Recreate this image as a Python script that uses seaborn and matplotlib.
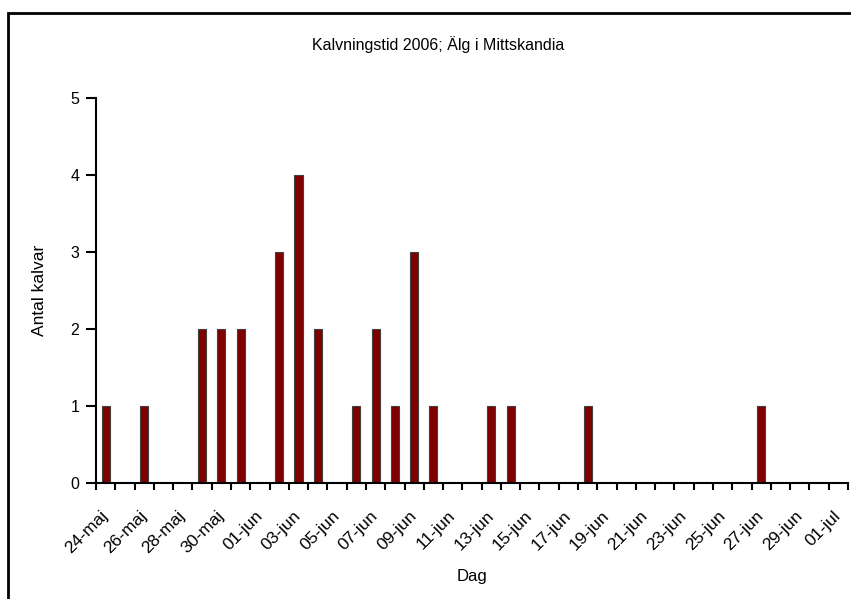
import matplotlib
matplotlib.use("Agg")
import matplotlib.pyplot as plt
import seaborn as sns
import pandas as pd
import numpy as np
from matplotlib.patches import Rectangle

sns.set_theme(style="white")
plt.rcParams['font.family'] = ['Liberation Sans', 'DejaVu Sans']
plt.rcParams['text.color'] = 'black'
plt.rcParams['axes.labelcolor'] = 'black'
plt.rcParams['xtick.color'] = 'black'
plt.rcParams['ytick.color'] = 'black'

days = ["24-maj", "25-maj", "26-maj", "27-maj", "28-maj", "29-maj", "30-maj", "31-maj",
        "01-jun", "02-jun", "03-jun", "04-jun", "05-jun", "06-jun", "07-jun", "08-jun",
        "09-jun", "10-jun", "11-jun", "12-jun", "13-jun", "14-jun", "15-jun", "16-jun",
        "17-jun", "18-jun", "19-jun", "20-jun", "21-jun", "22-jun", "23-jun", "24-jun",
        "25-jun", "26-jun", "27-jun", "28-jun", "29-jun", "30-jun", "01-jul"]
counts = [1, 0, 1, 0, 0, 2, 2, 2,
          0, 3, 4, 2, 0, 1, 2, 1,
          3, 1, 0, 0, 1, 1, 0, 0,
          0, 1, 0, 0, 0, 0, 0, 0,
          0, 0, 1, 0, 0, 0, 0]

title = "Kalvningstid 2006; Älg i Mittskandia"
xlabel = "Dag"
ylabel = "Antal kalvar"

df = pd.DataFrame({"Dag": days, "Antal": counts})

fig = plt.figure(figsize=(8.51, 5.99), dpi=100)
ax = fig.add_axes([96/851, 1-483/599, (848-96)/851, (483-98)/599])

sns.barplot(data=df, x="Dag", y="Antal", order=days, color="#800000",
            width=0.42, edgecolor="#404040", linewidth=0.8, saturation=1, ax=ax)

ax.set_xlim(-0.5, len(days) - 0.5)
ax.set_ylim(0, 5)
ax.set_yticks(range(0, 6))
for s in ["top", "right"]:
    ax.spines[s].set_visible(False)
for s in ["left", "bottom"]:
    ax.spines[s].set_color("black")
    ax.spines[s].set_linewidth(1.5)

ax.set_xticks(np.arange(-0.5, len(days), 1), minor=True)
ax.set_xticks(np.arange(0, len(days), 2))
ax.set_xticklabels(days[::2], rotation=45, ha="right", va="center",
                   rotation_mode="anchor", fontsize=12.5)
ax.tick_params(axis="x", which="major", length=0, pad=22)
ax.tick_params(axis="x", which="minor", length=5, width=1.5, color="black", direction="out", bottom=True)
ax.tick_params(axis="y", length=7, width=1.5, color="black", direction="out", left=True, labelsize=11.5, pad=5)

ax.set_xlabel(xlabel, fontsize=12, labelpad=0)
ax.set_ylabel(ylabel, fontsize=12.5, labelpad=12)
ax.xaxis.set_label_coords((472-96)/(848-96), -(577-483)/(483-98))
ax.xaxis.label.set_va("center")
ax.yaxis.set_label_coords(-(96-40)/(848-96), 0.5)
ax.yaxis.label.set_va("center")

fig.text(438/851, 1-45/599, title, ha="center", va="center", fontsize=11.5)

fig.patches.append(Rectangle((8/851, -0.05), 1.0, 1-12.5/599 + 0.05, transform=fig.transFigure,
                             fill=False, edgecolor="black", linewidth=2))

fig.savefig("out.png", dpi=100)
